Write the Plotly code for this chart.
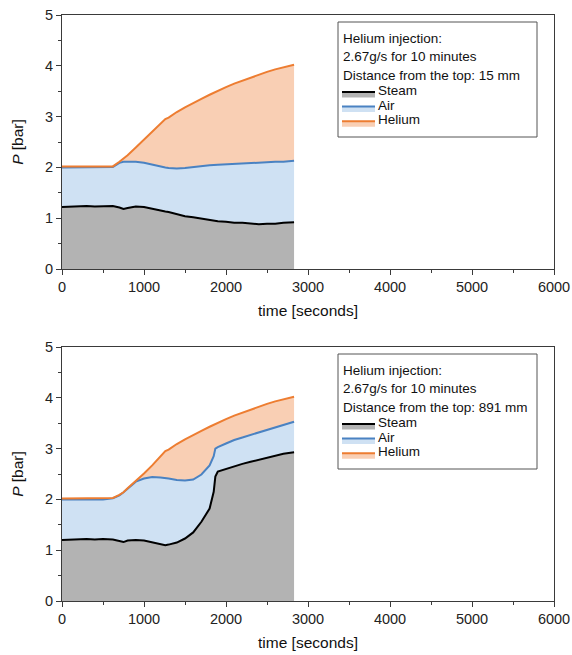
import plotly.graph_objects as go
from plotly.subplots import make_subplots

# ---------------- data (cumulative pressures, bar) ----------------
t_top = [0, 100, 200, 300, 400, 500, 620, 700, 750, 800, 900, 1000, 1100, 1200, 1260,
         1300, 1400, 1500, 1600, 1700, 1800, 1900, 2000, 2100, 2200, 2300, 2400, 2500,
         2600, 2700, 2830]
steam_top = [1.22, 1.23, 1.23, 1.24, 1.23, 1.24, 1.24, 1.21, 1.18, 1.20, 1.23, 1.22, 1.18,
             1.15, 1.13, 1.12, 1.08, 1.04, 1.02, 0.99, 0.96, 0.94, 0.93, 0.91, 0.91, 0.90,
             0.88, 0.89, 0.89, 0.91, 0.92]
air_top = [2.00, 2.00, 2.00, 2.00, 2.00, 2.00, 2.01, 2.09, 2.11, 2.11, 2.11, 2.09, 2.05,
           2.02, 2.00, 1.99, 1.98, 1.99, 2.01, 2.03, 2.04, 2.05, 2.06, 2.07, 2.08, 2.08,
           2.09, 2.10, 2.11, 2.11, 2.13]
helium_top = [2.02, 2.02, 2.02, 2.02, 2.02, 2.02, 2.02, 2.11, 2.17, 2.24, 2.39, 2.54, 2.69,
              2.85, 2.95, 2.98, 3.09, 3.18, 3.27, 3.35, 3.43, 3.51, 3.58, 3.65, 3.71, 3.77,
              3.83, 3.88, 3.93, 3.97, 4.02]

t_bot = [0, 100, 200, 300, 400, 500, 620, 700, 750, 800, 900, 1000, 1100, 1200, 1260,
         1300, 1400, 1500, 1600, 1700, 1800, 1850, 1870, 1900, 2000, 2100, 2200, 2300,
         2400, 2500, 2600, 2700, 2830]
steam_bot = [1.20, 1.21, 1.21, 1.22, 1.21, 1.22, 1.21, 1.18, 1.16, 1.19, 1.20, 1.19, 1.16,
             1.12, 1.10, 1.11, 1.15, 1.23, 1.35, 1.56, 1.82, 2.15, 2.45, 2.55, 2.60, 2.66,
             2.70, 2.74, 2.78, 2.82, 2.86, 2.90, 2.93]
air_bot = [2.00, 2.00, 2.00, 2.00, 2.00, 2.00, 2.02, 2.08, 2.14, 2.21, 2.35, 2.41, 2.44,
           2.43, 2.42, 2.41, 2.38, 2.37, 2.39, 2.49, 2.67, 2.85, 3.00, 3.03, 3.10, 3.17,
           3.22, 3.27, 3.32, 3.37, 3.42, 3.47, 3.53]
helium_bot = [2.02, 2.02, 2.02, 2.02, 2.02, 2.02, 2.03, 2.09, 2.14, 2.22, 2.36, 2.51, 2.67,
              2.85, 2.95, 2.98, 3.09, 3.18, 3.27, 3.35, 3.43, 3.47, 3.48, 3.51, 3.58, 3.65,
              3.71, 3.77, 3.83, 3.88, 3.93, 3.97, 4.02]

series_names = ["Steam", "Air", "Helium"]
header_lines = ["Helium injection:", "2.67g/s for 10 minutes"]
distance_labels = ["Distance from the top: 15 mm", "Distance from the top: 891 mm"]
x_ticks = [0, 1000, 2000, 3000, 4000, 5000, 6000]
y_ticks = [0, 1, 2, 3, 4, 5]

# ---------------- styles ----------------
line_cols = ["#000000", "#4a82c2", "#ed7d31"]
fill_cols = ["#b3b3b3", "#cfe1f3", "#f9cfb4"]
FONT = "Arial, Liberation Sans, sans-serif"

W, H = 572, 655
ML, MR, MT, MB = 62, 18, 15, 54
PLOT_H = 254
fig = make_subplots(rows=2, cols=1, vertical_spacing=(347 - 269) / (H - MT - MB))

panels = [(t_top, steam_top, air_top, helium_top), (t_bot, steam_bot, air_bot, helium_bot)]
for r, (t, s, a, h) in enumerate(panels, start=1):
    for i, (name, ys) in enumerate(zip(series_names, (s, a, h))):
        fig.add_trace(go.Scatter(
            x=t, y=ys, name=name, mode="lines",
            line=dict(color=line_cols[i], width=2),
            fill="tozeroy" if i == 0 else "tonexty",
            fillcolor=fill_cols[i], showlegend=False, hoverinfo="skip"), row=r, col=1)

axis_common = dict(showline=True, linecolor="#3a3a3a", linewidth=1, mirror=True,
                   ticks="outside", ticklen=5, tickcolor="#3a3a3a", showgrid=False,
                   zeroline=False, automargin=False,
                   tickfont=dict(family=FONT, size=14.5, color="#222"))
for r in (1, 2):
    fig.update_xaxes(range=[0, 6000], tickvals=x_ticks,
                     minor=dict(ticks="outside", ticklen=3, dtick=500, tickcolor="#3a3a3a"),
                     title=dict(text="time [seconds]", font=dict(family=FONT, size=15.5, color="#111"),
                                standoff=10),
                     row=r, col=1, **axis_common)
    fig.update_yaxes(range=[0, 5], tickvals=y_ticks,
                     minor=dict(ticks="outside", ticklen=3, dtick=0.5, tickcolor="#3a3a3a"),
                     title=dict(text="<i>P</i> [bar]", font=dict(family=FONT, size=15.5, color="#111"),
                                standoff=17),
                     row=r, col=1, **axis_common)

# ---------------- custom legend box (Origin style) ----------------
PW = W - ML - MR
def dx(px):
    return (px - ML) / PW
def dy(py, top):
    return (top + PLOT_H - py) / PLOT_H

shapes, annos = [], []
for k, top in enumerate((15, 347)):
    xr = "x domain" if k == 0 else "x2 domain"
    yr = "y domain" if k == 0 else "y2 domain"
    off = top - 15
    shapes.append(dict(type="rect", xref=xr, yref=yr, x0=dx(338), x1=dx(537),
                       y0=dy(137 + off, top), y1=dy(22 + off, top),
                       line=dict(color="#555", width=1), fillcolor="white", layer="above"))
    texts = header_lines + [distance_labels[k]]
    for j, txt in enumerate(texts):
        annos.append(dict(xref=xr, yref=yr, x=dx(341), y=dy(38.5 + 18.3 * j + off, top),
                          text=txt, showarrow=False, xanchor="left", yanchor="middle",
                          font=dict(family=FONT, size=13.5, color="#111")))
    for i, name in enumerate(series_names):
        yc = 90.5 + 14.6 * i + off
        yl = yc + 1.5
        shapes.append(dict(type="rect", xref=xr, yref=yr, x0=dx(342), x1=dx(375),
                           y0=dy(yl + 5.5, top), y1=dy(yl, top), line=dict(width=0),
                           fillcolor=fill_cols[i], layer="above"))
        shapes.append(dict(type="line", xref=xr, yref=yr, x0=dx(342), x1=dx(375),
                           y0=dy(yl, top), y1=dy(yl, top),
                           line=dict(color=line_cols[i], width=2), layer="above"))
        annos.append(dict(xref=xr, yref=yr, x=dx(376), y=dy(yc, top), text=name,
                          showarrow=False, xanchor="left", yanchor="middle",
                          font=dict(family=FONT, size=13.5, color="#111")))

fig.update_layout(width=W, height=H, margin=dict(l=ML, r=MR, t=MT, b=MB),
                  plot_bgcolor="white", paper_bgcolor="white", hovermode=False,
                  shapes=shapes, annotations=annos, showlegend=False)
fig.write_html("out.html", config={"displayModeBar": False},
               post_script="document.body.style.margin='0';")
